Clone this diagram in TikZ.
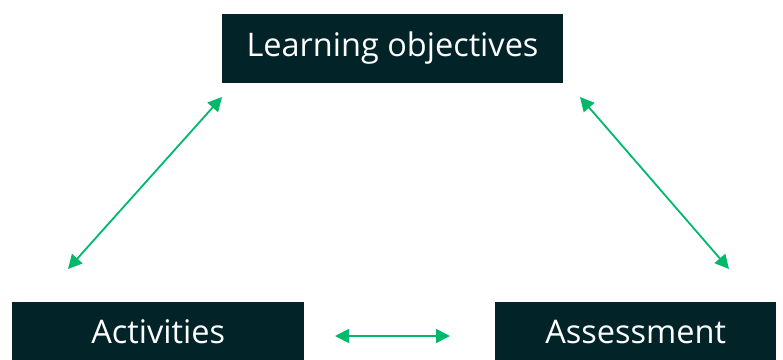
\documentclass[tikz,border=0pt]{standalone}
\usepackage{fontspec}
\setmainfont{Open Sans}
\usetikzlibrary{arrows.meta}
\definecolor{boxdark}{HTML}{022428}
\definecolor{arrowgreen}{HTML}{00B96B}
\begin{document}
\begin{tikzpicture}[x=1pt,y=-1pt,
  box/.style={fill=boxdark,text=white,inner sep=0pt,font=\fontsize{32.5}{38}\selectfont},
  link/.style={draw=arrowgreen,line width=1.8pt,{Triangle[length=14pt,width=14pt]}-{Triangle[length=14pt,width=14pt]}}]
\useasboundingbox (0,0) rectangle (783,359);
\node[box,minimum width=341pt,minimum height=69pt] (lo) at (392.5,48.5) {Learning objectives};
\node[box,minimum width=292pt,minimum height=60pt,anchor=north west] (act) at (12,302) {Activities};
\node[box,minimum width=281pt,minimum height=60pt,anchor=north west] (ass) at (495,302) {Assessment};
\coordinate (a1) at (222,97);
\coordinate (a2) at (68,269);
\coordinate (b1) at (580,97);
\coordinate (b2) at (729,269);
\coordinate (c1) at (335,336);
\coordinate (c2) at (450,336);
\draw[link] (a1) -- (a2);
\draw[link] (b1) -- (b2);
\draw[link] (c1) -- (c2);
\end{tikzpicture}
\end{document}
